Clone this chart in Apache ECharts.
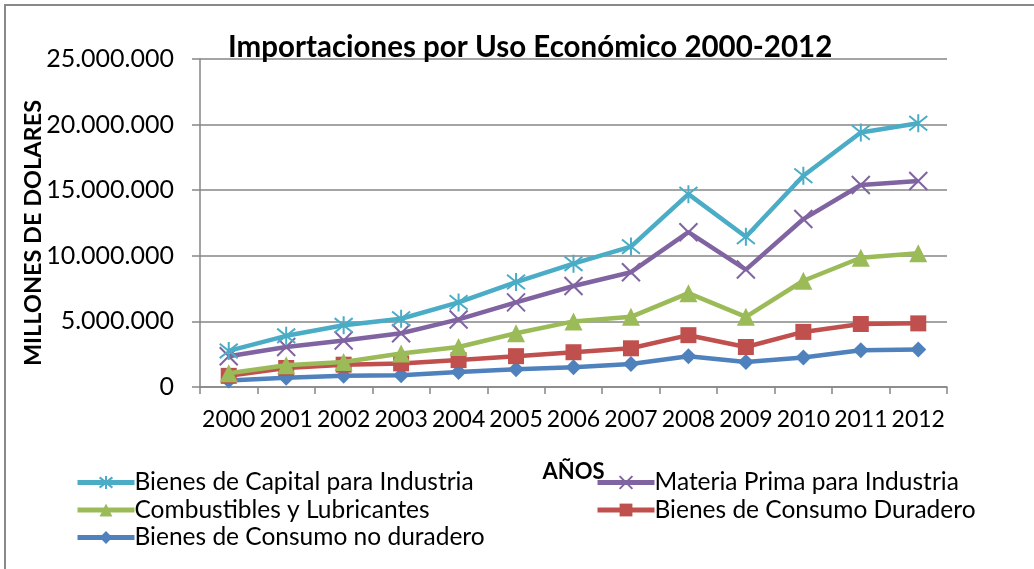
<!DOCTYPE html>
<html>
<head>
<meta charset="utf-8">
<script src="https://cdn.jsdelivr.net/npm/echarts@6/dist/echarts.min.js"></script>
<style>
  html, body { margin: 0; padding: 0; background: #fff; }
  #chart { width: 1034px; height: 569px; }
</style>
</head>
<body>
<div id="chart"></div>
<script>
// años y valores
var years = ['2000', '2001', '2002', '2003', '2004', '2005', '2006', '2007', '2008', '2009', '2010', '2011', '2012']
var capital = [2750000, 3900000, 4700000, 5200000, 6450000, 8000000, 9400000, 10700000, 14700000, 11450000, 16100000, 19400000, 20100000]
var materiaPrima = [2350000, 3050000, 3550000, 4100000, 5150000, 6450000, 7700000, 8750000, 11800000, 8950000, 12800000, 15400000, 15700000]
var combustibles = [1050000, 1650000, 1900000, 2550000, 3050000, 4100000, 5000000, 5350000, 7150000, 5350000, 8100000, 9850000, 10200000]
var duradero = [850000, 1450000, 1700000, 1800000, 2050000, 2350000, 2650000, 2950000, 3950000, 3050000, 4200000, 4800000, 4850000]
var noDuradero = [500000, 700000, 850000, 900000, 1150000, 1350000, 1500000, 1750000, 2350000, 1900000, 2250000, 2800000, 2850000]
var yTicks = [0, 5000000, 10000000, 15000000, 20000000, 25000000]

var font = 'Lato, "Open Sans", sans-serif'
var starPath = 'path://M0,-10 L0,10 M-8,-8 L8,8 M-8,8 L8,-8'
var crossPath = 'path://M-8,-8 L8,8 M-8,8 L8,-8'

function mkLine(name, data, color, symbol, size, z) {
  return {
    name: name,
    type: 'line',
    data: data,
    symbol: symbol,
    symbolSize: size,
    showAllSymbol: true,
    z: z,
    lineStyle: { color: color, width: 4.5 },
    itemStyle: { color: color, borderColor: color, borderWidth: symbol.indexOf('path') === 0 ? 2 : 0 },
  }
}

var legendBase = {
  orient: 'vertical',
  top: 465,
  itemWidth: 57,
  itemHeight: 16,
  itemGap: 2.5,
  lineStyle: { width: 5 },
  textStyle: { fontFamily: font, fontSize: 24.5, lineHeight: 24, color: '#000', padding: [0, 0, 0, -5] },
}

var myChart = echarts.init(document.getElementById('chart'))
myChart.setOption({
  animation: false,
  textStyle: { fontFamily: font },
  graphic: [
    {
      type: 'rect',
      shape: { x: 5, y: 5, width: 1040, height: 580 },
      style: { fill: 'none', stroke: '#898989', lineWidth: 2 },
      silent: true,
    },
    {
      type: 'text',
      x: 33,
      y: 233,
      rotation: Math.PI / 2,
      style: {
        text: 'MILLONES DE DOLARES',
        fontFamily: font,
        fontSize: 23.5,
        fontWeight: 'bold',
        fill: '#000',
        align: 'center',
        verticalAlign: 'middle',
      },
      silent: true,
    },
  ],
  title: {
    text: 'Importaciones por Uso Económico 2000-2012',
    left: 223,
    top: 27,
    textStyle: { fontFamily: font, fontSize: 29.5, fontWeight: 'bold', color: '#000' },
  },
  legend: [
    Object.assign({}, legendBase, {
      left: 70,
      data: ['Bienes de Capital para Industria', 'Combustibles y Lubricantes', 'Bienes de Consumo no duradero'],
    }),
    Object.assign({}, legendBase, {
      left: 590,
      data: ['Materia Prima para Industria', 'Bienes de Consumo Duradero'],
    }),
  ],
  grid: { left: 200, right: 87, top: 59, bottom: 182 },
  xAxis: {
    type: 'category',
    data: years,
    boundaryGap: true,
    name: 'AÑOS',
    nameLocation: 'middle',
    nameGap: 74,
    nameTextStyle: { fontFamily: font, fontSize: 22, fontWeight: 'bold', color: '#000' },
    axisLine: { lineStyle: { color: '#868686', width: 1.5 } },
    axisTick: { show: true, length: 7, lineStyle: { color: '#868686', width: 1.5 } },
    axisLabel: { fontFamily: font, fontSize: 23, color: '#000', margin: 21, interval: 0 },
  },
  yAxis: {
    type: 'value',
    min: yTicks[0],
    max: yTicks[yTicks.length - 1],
    interval: 5000000,
    axisLine: { show: true, lineStyle: { color: '#868686', width: 1.5 } },
    axisTick: { show: true, length: 8, lineStyle: { color: '#868686', width: 1.5 } },
    splitLine: { lineStyle: { color: '#868686', width: 1.5 } },
    axisLabel: {
      fontFamily: font,
      fontSize: 25,
      color: '#000',
      margin: 26,
      formatter: function (v) {
        return String(v).replace(/\B(?=(\d{3})+(?!\d))/g, '.')
      },
    },
  },
  series: [
    mkLine('Bienes de Capital para Industria', capital, '#4BACC6', starPath, 18, 6),
    mkLine('Materia Prima para Industria', materiaPrima, '#8064A2', crossPath, 18, 5),
    mkLine('Combustibles y Lubricantes', combustibles, '#9BBB59', 'triangle', 18, 4),
    mkLine('Bienes de Consumo Duradero', duradero, '#C0504D', 'rect', 16, 3),
    mkLine('Bienes de Consumo no duradero', noDuradero, '#4F81BD', 'diamond', 16, 2),
  ],
})
</script>
</body>
</html>
